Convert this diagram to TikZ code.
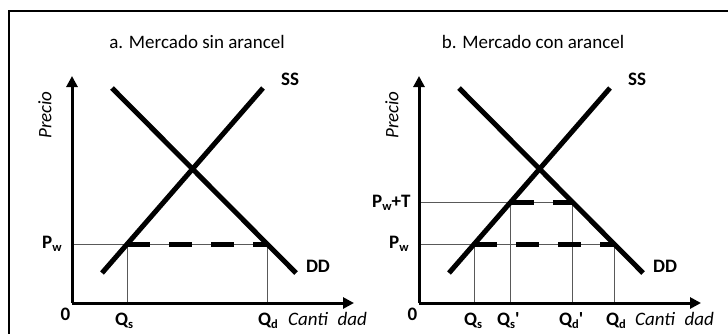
\documentclass[tikz,border=0pt]{standalone}
\usepackage{fontspec}
\setmainfont{Carlito}
\usetikzlibrary{arrows.meta}
\newcommand\lsub[1]{\raisebox{-0.2em}{\fontsize{12.5}{12.5}\selectfont #1}}
\tikzset{
  axisline/.style={line width=3pt, -{Triangle[length=11pt,width=11pt]}},
  curveline/.style={line width=5pt},
  guideline/.style={line width=1pt, black!65},
  importline/.style={line width=5pt, dash pattern=on 23pt off 19pt},
  boldlbl/.style={font=\fontsize{19}{19}\selectfont\bfseries, inner sep=0pt},
  titlelbl/.style={font=\fontsize{19}{19}\selectfont, inner sep=0pt},
  axislbl/.style={font=\fontsize{19}{19}\selectfont\itshape, inner sep=0pt},
  framestyle/.style={line width=2pt}
}
\begin{document}
\begin{tikzpicture}[x=1pt,y=-1pt]
\useasboundingbox (0,0) rectangle (728,333);
\clip (0,0) rectangle (728,333);
\draw[framestyle] (8.5,345) |- (745,10.5);

% ---------- Panel a ----------
\coordinate (aO) at (72,303);
\coordinate (aY) at (72,76);
\coordinate (aX) at (354,303);
\coordinate (aD1) at (112,88);
\coordinate (aD2) at (296,273);
\coordinate (aS1) at (102,273);
\coordinate (aS2) at (263,88);
\coordinate (aPw) at (72,244);
\coordinate (aEs) at (127.2,244);
\coordinate (aEd) at (267.2,244);
\coordinate (aQs) at (127.2,303);
\coordinate (aQd) at (267.2,303);

\draw[guideline] (aPw) -- (aEd);
\draw[guideline] (aEs) -- (aQs);
\draw[guideline] (aEd) -- (aQd);
\draw[importline] (aEs) -- (aEd);
\draw[curveline] (aD1) -- (aD2);
\draw[curveline] (aS1) -- (aS2);
\draw[axisline] (aO) -- (aY);
\draw[axisline] (aO) -- (aX);

\node[titlelbl] (aT) at (197,42) {a. Mercado sin arancel};
\node[axislbl, rotate=90] (aP) at (45,115) {Precio};
\node[boldlbl] (aSS) at (290,79) {SS};
\node[boldlbl] (aDD) at (318,266) {DD};
\node[boldlbl, anchor=base west] (aPwl) at (42,248) {P\lsub{w}};
\node[boldlbl] (a0) at (65.5,314) {0};
\node[boldlbl, anchor=base west] (aQsl) at (115,325) {Q\lsub{s}};
\node[boldlbl, anchor=base west] (aQdl) at (258,325) {Q\lsub{d}};
\node[axislbl, anchor=base west] (aC) at (288,325) {Canti\hspace{0.5em}dad};

% ---------- Panel b ----------
\begin{scope}[xshift=347pt]
\coordinate (bO) at (72,303);
\coordinate (bY) at (72,76);
\coordinate (bX) at (354,303);
\coordinate (bD1) at (112,88);
\coordinate (bD2) at (296,273);
\coordinate (bS1) at (102,273);
\coordinate (bS2) at (263,88);
\coordinate (bPw) at (72,244);
\coordinate (bPt) at (72,202);
\coordinate (bEs) at (127.2,244);
\coordinate (bEd) at (267.2,244);
\coordinate (bFs) at (163.8,202);
\coordinate (bFd) at (225.4,202);
\coordinate (bQs) at (127.2,303);
\coordinate (bQd) at (267.2,303);
\coordinate (bQsp) at (163.8,303);
\coordinate (bQdp) at (225.4,303);

\draw[guideline] (bPw) -- (bEd);
\draw[guideline] (bPt) -- (bFd);
\draw[guideline] (bEs) -- (bQs);
\draw[guideline] (bEd) -- (bQd);
\draw[guideline] (bFs) -- (bQsp);
\draw[guideline] (bFd) -- (bQdp);
\draw[importline] (bEs) -- (bEd);
\draw[importline] (bFs) -- (bFd);
\draw[curveline] (bD1) -- (bD2);
\draw[curveline] (bS1) -- (bS2);
\draw[axisline] (bO) -- (bY);
\draw[axisline] (bO) -- (bX);

\node[titlelbl] (bT) at (186,42) {b. Mercado con arancel};
\node[axislbl, rotate=90] (bP) at (45,115) {Precio};
\node[boldlbl] (bSS) at (290,79) {SS};
\node[boldlbl] (bDD) at (318,266) {DD};
\node[boldlbl, anchor=base west] (bPwl) at (42,248) {P\lsub{w}};
\node[boldlbl, anchor=base west] (bPtl) at (25,207) {P\lsub{w}+T};
\node[boldlbl] (b0) at (65.5,314) {0};
\node[boldlbl, anchor=base west] (bQsl) at (117,325) {Q\lsub{s}};
\node[boldlbl, anchor=base west] (bQspl) at (150,325) {Q\lsub{s}\textquotesingle};
\node[boldlbl, anchor=base west] (bQdpl) at (212,325) {Q\lsub{d}\textquotesingle};
\node[boldlbl, anchor=base west] (bQdl) at (259,325) {Q\lsub{d}};
\node[axislbl, anchor=base west] (bC) at (288,325) {Canti\hspace{0.5em}dad};
\end{scope}
\end{tikzpicture}
\end{document}
